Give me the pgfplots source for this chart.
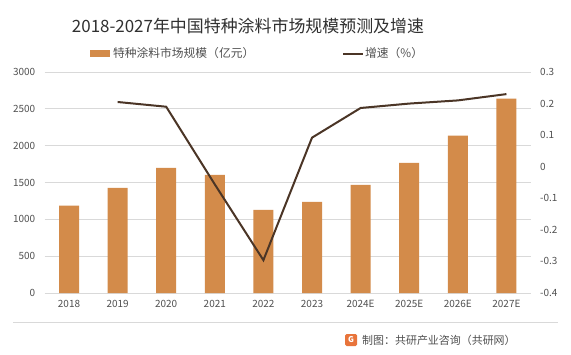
\documentclass[border=0pt]{standalone}
\usepackage{pgfplots}
\pgfplotsset{compat=1.18}
\usepackage{fontspec}
\setmainfont{Noto Sans CJK SC}
\definecolor{barc}{HTML}{D38B4A}
\definecolor{linec}{HTML}{4B3526}
\definecolor{tickc}{HTML}{505050}
\definecolor{gridc}{HTML}{D9D9D9}
\definecolor{titlec}{HTML}{303030}
\definecolor{logoc}{HTML}{E8743B}
\begin{document}
\begin{tikzpicture}[x=1bp,y=1bp]
\useasboundingbox (0,0) rectangle (571,354);
\fill[white] (0,0) rectangle (571,354);
\begin{axis}[at={(44.7bp,61bp)}, anchor=south west, scale only axis,
  width=486bp, height=221bp,
  xmin=-0.5, xmax=9.5, ymin=0, ymax=3000,
  ytick={0,500,...,3000}, xtick={0,...,9},
  xticklabels={2018,2019,2020,2021,2022,2023,2024E,2025E,2026E,2027E},
  axis line style={draw=none}, major tick length=0pt,
  ymajorgrids, grid style={gridc, line width=0.8bp},
  ticklabel style={font=\fontsize{10}{11}\selectfont, text=tickc},
  /pgf/number format/assume math mode=true,
  /pgf/number format/1000 sep={},
  yticklabel style={xshift=-6bp},
  xticklabel style={yshift=-4bp},
  clip=false]
\addplot[ybar, bar width=20bp, fill=barc, draw=none] coordinates {
(0,1185) (1,1428) (2,1700) (3,1604) (4,1130) (5,1238) (6,1468) (7,1768) (8,2135) (9,2640)};
\end{axis}
\begin{axis}[at={(44.7bp,61bp)}, anchor=south west, scale only axis,
  width=486bp, height=221bp,
  xmin=-0.5, xmax=9.5, ymin=-0.4, ymax=0.3,
  ytick={-0.4,-0.3,...,0.3}, xtick=\empty,
  axis y line*=right, axis x line=none,
  axis line style={draw=none}, major tick length=0pt,
  ticklabel style={font=\fontsize{10}{11}\selectfont, text=tickc},
  /pgf/number format/assume math mode=true,
  /pgf/number format/fixed, /pgf/number format/precision=1,
  yticklabel style={xshift=6bp},
  clip=false]
\addplot[linec, line width=2bp, mark=none] coordinates {
(1,0.205) (2,0.190) (3,-0.056) (4,-0.296) (5,0.092) (6,0.186) (7,0.200) (8,0.210) (9,0.230)};
\end{axis}
\node[font=\fontsize{17}{19}\selectfont, text=titlec] at (248,328) {2018-2027年中国特种涂料市场规模预测及增速};
\fill[barc] (90,297.5) rectangle (110,304);
\node[anchor=west, font=\fontsize{11.8}{13}\selectfont, text=tickc, inner sep=0] at (113,300.5) {特种涂料市场规模（亿元）};
\draw[linec, line width=2bp] (343,300.5) -- (363,300.5);
\node[anchor=west, font=\fontsize{11.8}{13}\selectfont, text=tickc, inner sep=0] at (365,300.5) {增速（\%）};
\draw[gridc, line width=0.8bp] (13,32) -- (558,32);
\fill[logoc, rounded corners=1.5bp] (345,8) rectangle (357,20);
\node[text=white, font=\bfseries\fontsize{8}{8}\selectfont, inner sep=0] at (351,14) {G};
\node[anchor=west, font=\fontsize{11}{12}\selectfont, text=tickc, inner sep=0] at (362,14) {制图：共研产业咨询（共研网）};
\end{tikzpicture}
\end{document}
